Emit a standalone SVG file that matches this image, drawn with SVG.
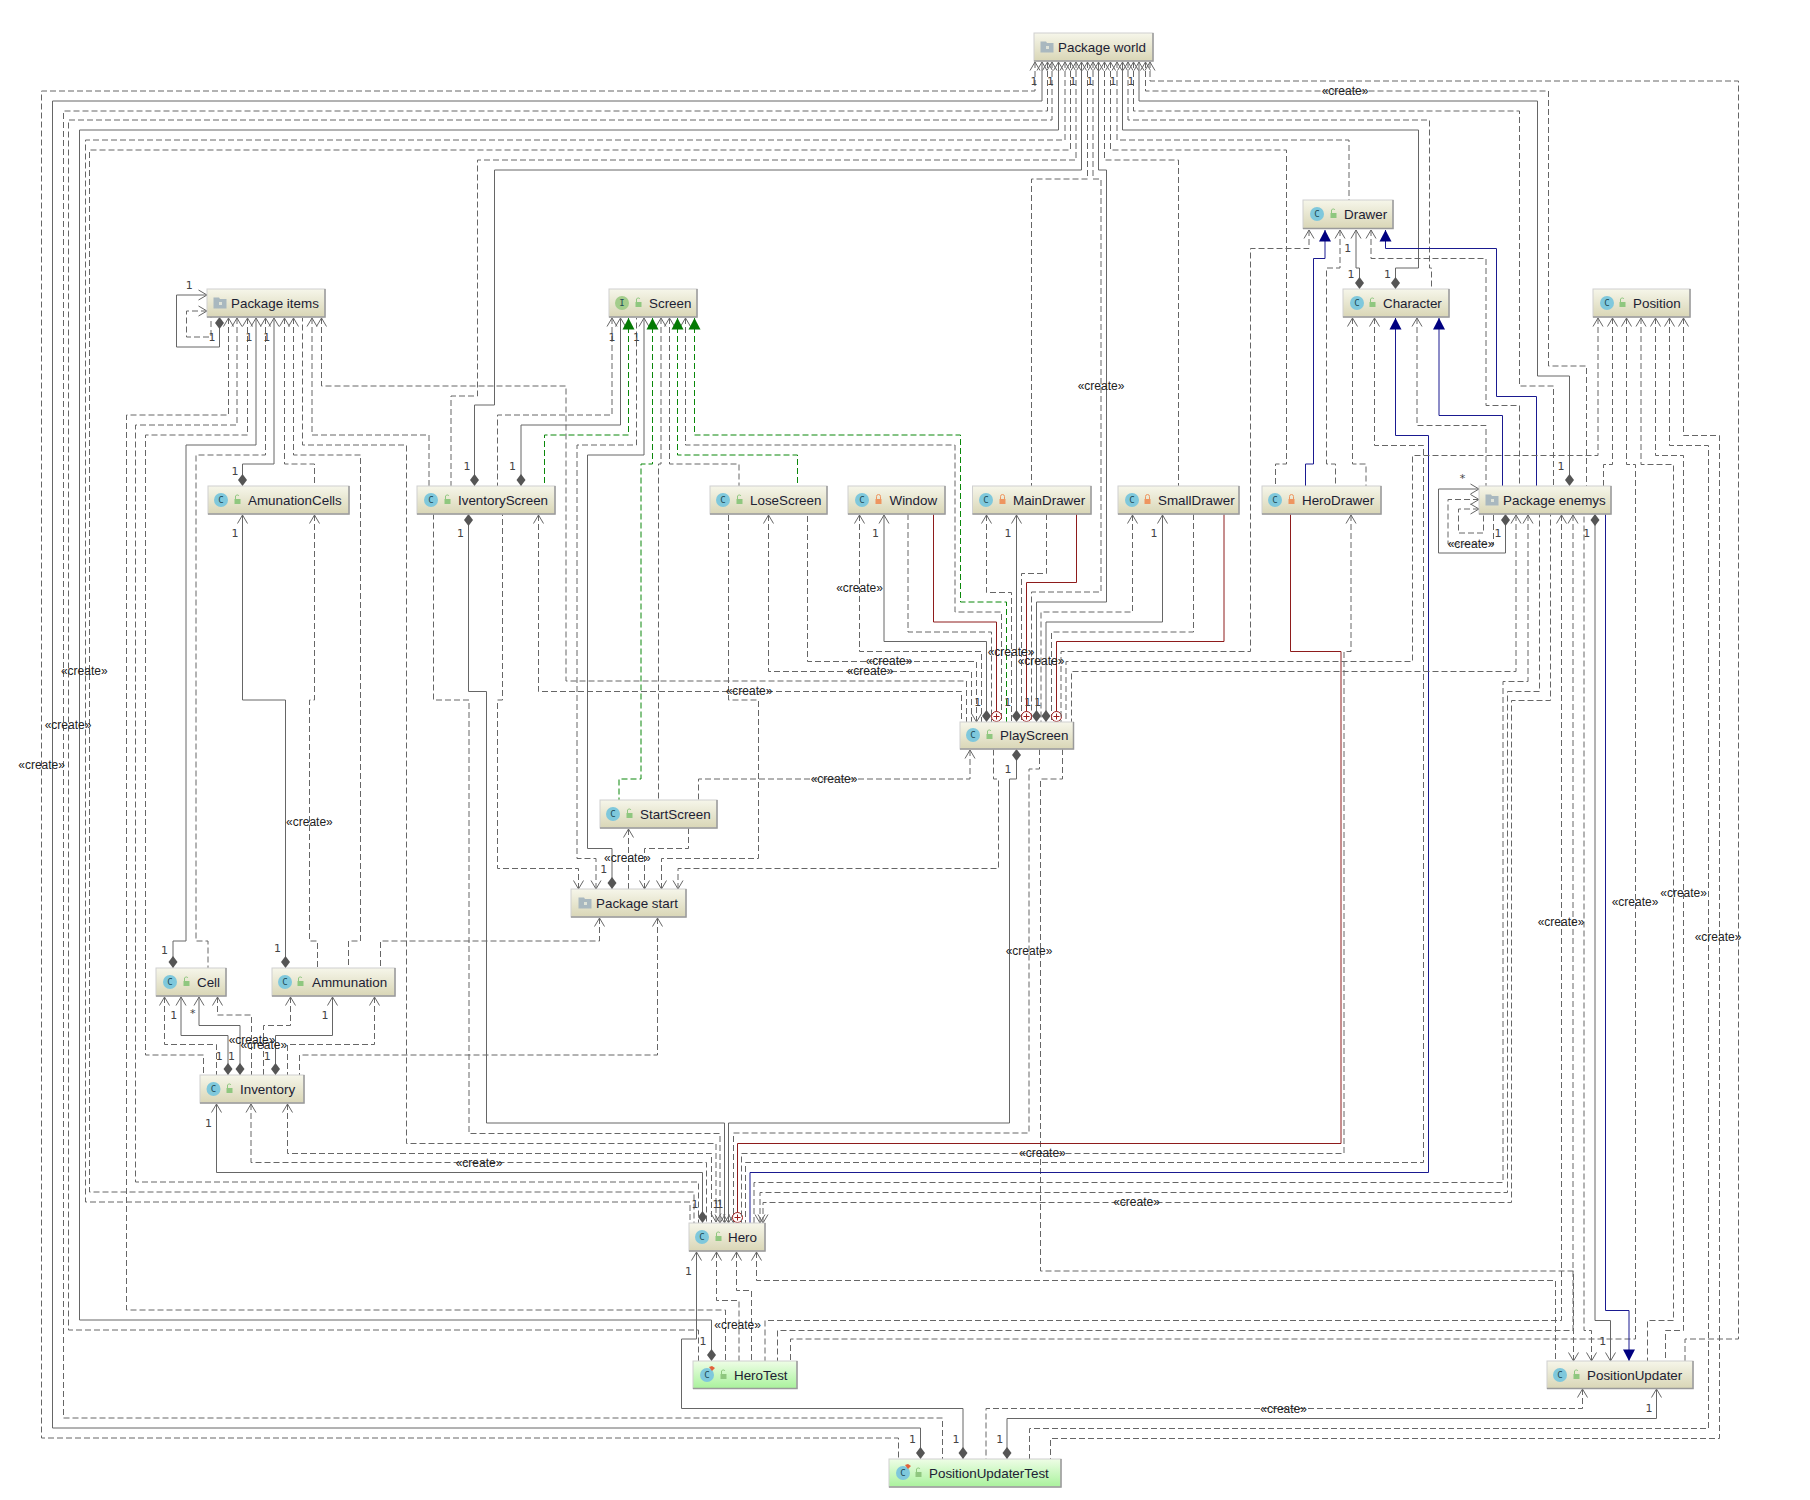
<svg xmlns="http://www.w3.org/2000/svg" width="1810" height="1500" viewBox="0 0 1810 1500">
<style>
text{font-family:"Liberation Sans",Arial,sans-serif}
.t{font-size:13.4px;fill:#1c2133}
.l{font-size:12px;fill:#222;text-anchor:middle}
.o{font-family:"DejaVu Sans",sans-serif;font-size:11px;fill:#444;text-anchor:middle}
.i{font-family:"DejaVu Sans Mono",monospace;font-size:9px;fill:#1d4a55;text-anchor:middle}
.n{fill:url(#nf);stroke:#d0d0d0;stroke-width:1}
.nt{fill:url(#tf);stroke:#d0d0d0;stroke-width:1}
.sh{fill:none;stroke:#9a9a9a;stroke-width:1.5}
.cc{fill:#7fc8dc}
.ci{fill:#a3cd8b}
#connectors path{fill:none;stroke-width:1}
.d{stroke:#666;stroke-dasharray:6 3}
.s{stroke:#666}
.g{stroke:#0a870a;stroke-dasharray:6 3}
.b{stroke:#1a1a90}
.r{stroke:#8e1c1c}
.a{marker-start:url(#oa)}
.k{marker-end:url(#dia)}
.c{marker-end:url(#plus)}
.fg{marker-start:url(#ga)}
.fb{marker-start:url(#ba)}
</style>
<defs>
<linearGradient id="nf" x1="0" y1="0" x2="0" y2="1"><stop offset="0" stop-color="#f6f6ea"/><stop offset="1" stop-color="#d9d6b6"/></linearGradient>
<linearGradient id="tf" x1="0" y1="0" x2="0" y2="1"><stop offset="0" stop-color="#eefde6"/><stop offset="1" stop-color="#a9f29c"/></linearGradient>
<marker id="oa" markerUnits="userSpaceOnUse" markerWidth="12" markerHeight="12" refX="10" refY="6" orient="auto-start-reverse"><path d="M1.500 1 L10 6 L1.500 11" fill="none" stroke="#666" stroke-width="1"/></marker>
<marker id="ga" markerUnits="userSpaceOnUse" markerWidth="13" markerHeight="13" refX="12" refY="6.5" orient="auto-start-reverse"><path d="M0.500 0.500 L12 6.500 L0.500 12.500Z" fill="#047a04"/></marker>
<marker id="ba" markerUnits="userSpaceOnUse" markerWidth="13" markerHeight="13" refX="12" refY="6.5" orient="auto-start-reverse"><path d="M0.500 0.500 L12 6.500 L0.500 12.500Z" fill="#000080"/></marker>
<marker id="dia" markerUnits="userSpaceOnUse" markerWidth="14" markerHeight="11" refX="13" refY="5.5" orient="auto"><path d="M1 5.500 L7 1 L13 5.500 L7 10Z" fill="#555"/></marker>
<marker id="plus" markerUnits="userSpaceOnUse" markerWidth="13" markerHeight="13" refX="12" refY="6.5" orient="auto"><circle cx="6.500" cy="6.500" r="5" fill="#fff" stroke="#9c1c1c" stroke-width="1"/><path d="M3.500 6.500 H9.500 M6.500 3.500 V9.500" stroke="#9c1c1c" stroke-width="1"/></marker>
<g id="lk"><path d="M-1.500 -1 V-4 A2 2 0 0 1 2 -4" fill="none" stroke="#8fc77f" stroke-width="1"/><rect x="-2.500" y="-1" width="6" height="5" fill="#8fc77f"/></g>
<g id="lp"><path d="M-1.500 -1 V-3.500 A2 2 0 0 1 2.500 -3.500 V-1" fill="none" stroke="#ee9560" stroke-width="1"/><rect x="-2.500" y="-1" width="6" height="5" fill="#ee9560"/></g>
<g id="fd"><path d="M-6.500 -5.500 H-1 L0 -4 H6.500 V5.500 H-6.500Z" fill="#a9b8bf"/><rect x="-1" y="-1" width="3" height="3" fill="#dfe3d8"/></g>
</defs>
<g id="connectors">
<path class="d a" d="M1035 62V91H41.500V1438H898.500V1459"/>
<path class="s a k" d="M1042 62V101H52.500V1428H920.500V1459"/>
<path class="d a" d="M1047.500 62V111H63.500V1418H942.500V1459"/>
<path class="d a" d="M1052 62V120H68.500V1330H698.500V1361"/>
<path class="s a k" d="M1058.500 62V130H79.500V1320H711.500V1361"/>
<path class="d a" d="M1065 62V140H85.500V1202H690V1223"/>
<path class="d a" d="M1070.500 62V150H89.500V1192H694V1223"/>
<path class="d a" d="M1076 62V160H477.500V396H451V486"/>
<path class="s a k" d="M1081.500 62V170H494.500V405H474.500V486"/>
<path class="d a" d="M1087.500 62V179H1031.500V486"/>
<path class="d a" d="M1093 62V179H1101V592H1031.500V722"/>
<path class="s a k" d="M1098.500 62V170H1106.500V602H1036.500V722"/>
<path class="d a" d="M1104.500 62V160H1178.500V486"/>
<path class="d a" d="M1110.500 62V150H1286.500V464H1275.500V486"/>
<path class="d a" d="M1117 62V140H1349V200"/>
<path class="s a k" d="M1122.500 62V130H1418.500V268H1395.500V289"/>
<path class="d a" d="M1128 62V120H1429.500V268H1431.500V289"/>
<path class="d a" d="M1133.500 62V111H1519.500V386H1553.500V486"/>
<path class="s a k" d="M1139 62V101H1537.500V376H1569.500V486"/>
<path class="d a" d="M1145.500 62V91H1548.500V366H1586.500V486"/>
<path class="d a" d="M1150 62V81H1738.500V1339H1685V1361"/>
<path class="d a" d="M207 311H186.500V337H211V317"/>
<path class="s a k" d="M207 295H176.500V347H219.500V317"/>
<path class="d a" d="M228.500 318V415H126.500V1310H725.500V1361"/>
<path class="d a" d="M237 318V425H135.500V1182H698.500V1223"/>
<path class="d a" d="M247.500 318V435H145.500V1055H203.500V1075"/>
<path class="s a k" d="M256 318V445H186V941H173V968"/>
<path class="d a" d="M265.500 318V455H196V941H208V968"/>
<path class="s a k" d="M274 318V464H242.500V486"/>
<path class="d a" d="M284.500 318V464H314.500V486"/>
<path class="d a" d="M293.500 318V455H360.500V941H348.500V968"/>
<path class="d a" d="M716 1222V1143.500H406.500V445H302.500V318"/>
<path class="d a" d="M312 318V435H429V486"/>
<path class="d a" d="M321.500 318V386H566V681H966.500V722"/>
<path class="d a" d="M612 318V415H497.500V486"/>
<path class="s a k" d="M620.500 318V425H521V486"/>
<path class="d a" d="M596 889V858.500H577V445H636.500V318"/>
<path class="s a k" d="M644 318V455H587.500V848.500H612V889"/>
<path class="d a" d="M661 318V464H658.500V800"/>
<path class="d a" d="M669.500 318V464H739V486"/>
<path class="d a" d="M685.500 318V445H955V612H1001.500V722"/>
<path class="g fg" d="M628.500 318V435H544.500V486"/>
<path class="g fg" d="M652.500 318V464H641V779H619V800"/>
<path class="g fg" d="M677.500 318V455H797.500V486"/>
<path class="g fg" d="M694.500 318V435H960.500V602H1006.500V722"/>
<path class="d a" d="M859.500 515V651.500H981.500V722"/>
<path class="s a k" d="M884 515V641.500H986.500V722"/>
<path class="d" d="M908 514V632H991.500V722"/>
<path class="r c" d="M933.500 514V622H996.500V722"/>
<path class="d a" d="M976.500 722V661.500H807.500V514"/>
<path class="d a" d="M768.500 515V671.500H971.500V722"/>
<path class="d a" d="M661.500 889V858.500H758.500V700H728.500V514"/>
<path class="d a" d="M538.500 515V691.500H961.500V722"/>
<path class="d a" d="M720 1223V1133.500H469V700H433.500V514"/>
<path class="s a k" d="M724.500 1223V1123H486.500V691.500H468.500V514"/>
<path class="d a" d="M578.500 889V868.500H497.500V700H502.500V514"/>
<path class="s a k" d="M242.500 515V700H285.500V968"/>
<path class="d a" d="M314.500 515V700H309.500V941H317.500V968"/>
<path class="d a" d="M599.500 918V941H380.500V968"/>
<path class="d a" d="M657.500 918V1055H299.500V1075"/>
<path class="d a" d="M628.500 829V889"/>
<path class="d a" d="M644.500 889V848.500H688.500V828"/>
<path class="d a" d="M970 750V779H698.500V800"/>
<path class="d a" d="M678 889V868.500H998.500V779H993.500V749"/>
<path class="s a k" d="M728.500 1223V1123H1009.500V779H1016.500V749"/>
<path class="d a" d="M733.500 1223V1133H1029V769H1039.500V749"/>
<path class="d a" d="M1573.500 1361V1271H1040.500V779H1062.500V749"/>
<path class="d a" d="M986.500 515V592.500H1011.500V722"/>
<path class="s a k" d="M1016.500 515V722"/>
<path class="d" d="M1046.500 514V573.500H1021.500V722"/>
<path class="r c" d="M1076.500 514V582.500H1026.500V722"/>
<path class="d a" d="M1132.500 515V612H1041V722"/>
<path class="s a k" d="M1162.500 515V622H1046V722"/>
<path class="d" d="M1193.500 514V632H1051.500V722"/>
<path class="r c" d="M1224 514V641.500H1056.500V722"/>
<path class="r c" d="M1290.500 514V651.500H1341V1143.500H737.500V1223"/>
<path class="d a" d="M1351 515V651.500H1344V1153.500H741.500V1223"/>
<path class="d a" d="M1340 230V268H1326.500V464H1335.500V486"/>
<path class="d a" d="M1352.500 318V464H1366V486"/>
<path class="d a" d="M1309 230V248.500H1250.500V651.500H1061V722"/>
<path class="s a k" d="M1356 230V268H1359.500V289"/>
<path class="d a" d="M1371 230V258.500H1486V405.500H1519.500V486"/>
<path class="d a" d="M1374.500 318V445.500H1423.500V1162.500H745.500V1223"/>
<path class="d a" d="M1417 318V425.500H1486V486"/>
<path class="b fb" d="M1325 230V258.500H1313.500V464H1305.500V486"/>
<path class="b fb" d="M1385.500 230V248.500H1496.500V396.500H1536.500V486"/>
<path class="b fb" d="M1395.500 318V435.500H1428.500V1172.500H750V1223"/>
<path class="b fb" d="M1439 318V415.500H1502.500V486"/>
<path class="d a" d="M1598 318V455.500H1412.500V661.500H1066V722"/>
<path class="d a" d="M1612.500 318V464.500H1603.500V486"/>
<path class="d a" d="M1626.500 318V464.500H1635.500V1339H790.500V1361"/>
<path class="d a" d="M1641 318V464.500H1673.500V1320.500H1647.500V1361"/>
<path class="d a" d="M1655.500 318V455.500H1683.500V1330.500H1665.500V1361"/>
<path class="d a" d="M1669.500 318V445.500H1708.500V1428.500H1029.500V1459"/>
<path class="d a" d="M1683.500 318V435.500H1719.500V1438.500H1050.500V1459"/>
<path class="s a k" d="M1479 489H1438.500V553H1505.500V514"/>
<path class="d a" d="M1479 499.500H1448V544H1493.500V514"/>
<path class="d a" d="M1479 509H1458.500V533H1483.500V514"/>
<path class="d a" d="M1516 515V671.500H1071.500V722"/>
<path class="d a" d="M1528 515V681.500H1503V1182.500H754V1223"/>
<path class="d a" d="M760 1223V1192.500H1507.500V691.500H1539.500V514"/>
<path class="d a" d="M763 1223V1202.500H1511.500V700.500H1550.500V514"/>
<path class="d a" d="M1561.500 515V1320.500H765V1361"/>
<path class="d a" d="M1573 515V1330.500H777.500V1361"/>
<path class="d a" d="M1591.500 1361V1330.500H1584V514"/>
<path class="s a k" d="M1610.500 1361V1320.500H1595V514"/>
<path class="b fb" d="M1629 1361V1310.500H1605.500V514"/>
<path class="d a" d="M756.500 1252V1280.500H1555.500V1361"/>
<path class="s a k" d="M696.500 1252V1339H681.500V1408.500H963V1459"/>
<path class="d a" d="M716.500 1252V1300.500H739V1361"/>
<path class="d a" d="M736.500 1252V1290.500H751.500V1361"/>
<path class="d a" d="M1582.500 1389V1408.500H986V1459"/>
<path class="s a k" d="M1656.500 1389V1418.500H1007V1459"/>
<path class="s a k" d="M216.500 1104V1172.500H702.500V1223"/>
<path class="d a" d="M251 1104V1162.500H706.500V1223"/>
<path class="d a" d="M287.500 1104V1153.500H711.500V1223"/>
<path class="d a" d="M164.500 997V1044.500H216.500V1075"/>
<path class="s a k" d="M181 997V1035.500H228V1075"/>
<path class="s a k" d="M199 997V1025.500H240V1075"/>
<path class="d a" d="M217.500 997V1015H251.500V1075"/>
<path class="d a" d="M290.500 997V1025.500H263.500V1075"/>
<path class="s a k" d="M332.500 997V1035.500H275.500V1075"/>
<path class="d a" d="M374.500 997V1044.500H287.500V1075"/>
</g>
<g id="labels">
<text class="l" x="1345" y="95">«create»</text>
<text class="l" x="1101" y="390">«create»</text>
<text class="l" x="84.300" y="675">«create»</text>
<text class="l" x="68" y="729">«create»</text>
<text class="l" x="41.600" y="769">«create»</text>
<text class="l" x="859.500" y="592">«create»</text>
<text class="l" x="1011" y="656">«create»</text>
<text class="l" x="1041" y="665">«create»</text>
<text class="l" x="889" y="665">«create»</text>
<text class="l" x="870" y="675">«create»</text>
<text class="l" x="749" y="695">«create»</text>
<text class="l" x="1471" y="548">«create»</text>
<text class="l" x="834" y="783">«create»</text>
<text class="l" x="309.400" y="826">«create»</text>
<text class="l" x="627.400" y="862">«create»</text>
<text class="l" x="1029" y="955">«create»</text>
<text class="l" x="1683.600" y="897">«create»</text>
<text class="l" x="1635" y="906">«create»</text>
<text class="l" x="1561" y="926">«create»</text>
<text class="l" x="1718" y="941">«create»</text>
<text class="l" x="252" y="1044">«create»</text>
<text class="l" x="263.800" y="1049">«create»</text>
<text class="l" x="479" y="1167">«create»</text>
<text class="l" x="1042.400" y="1157">«create»</text>
<text class="l" x="1136.500" y="1206">«create»</text>
<text class="l" x="737.600" y="1329">«create»</text>
<text class="l" x="1283.600" y="1413">«create»</text>
<text class="o" x="1034" y="85">1</text><text class="o" x="1050.500" y="85">1</text><text class="o" x="1073" y="85">1</text><text class="o" x="1090" y="85">1</text><text class="o" x="1113" y="85">1</text><text class="o" x="1131" y="85">1</text>
<text class="o" x="189.300" y="289">1</text><text class="o" x="212" y="341">1</text><text class="o" x="249" y="341">1</text><text class="o" x="266.700" y="341">1</text><text class="o" x="235" y="475">1</text>
<text class="o" x="612" y="341">1</text><text class="o" x="636.600" y="341">1</text><text class="o" x="467" y="470">1</text><text class="o" x="512.500" y="470">1</text>
<text class="o" x="1351" y="278">1</text><text class="o" x="1387.500" y="278">1</text><text class="o" x="1347.700" y="252">1</text><text class="o" x="1561" y="470">1</text>
<text class="o" x="235" y="537">1</text><text class="o" x="460.600" y="537">1</text><text class="o" x="875.600" y="537">1</text><text class="o" x="1008" y="537">1</text><text class="o" x="1154" y="537">1</text><text class="o" x="1498" y="537">1</text><text class="o" x="1586.700" y="537">1</text>
<text class="o" x="603.800" y="873">1</text><text class="o" x="164.500" y="954">1</text><text class="o" x="277.600" y="952">1</text>
<text class="o" x="977.700" y="706">1</text><text class="o" x="1007.700" y="706">1</text><text class="o" x="1027.700" y="706">1</text><text class="o" x="1037.700" y="706">1</text><text class="o" x="1008" y="773">1</text>
<text class="o" x="173.700" y="1019">1</text><text class="o" x="192.800" y="1017">*</text><text class="o" x="325" y="1019">1</text><text class="o" x="219.300" y="1060">1</text><text class="o" x="231.500" y="1060">1</text><text class="o" x="267.200" y="1060">1</text><text class="o" x="208.400" y="1127">1</text>
<text class="o" x="695" y="1208">1</text><text class="o" x="716" y="1208">1</text><text class="o" x="720" y="1208">1</text><text class="o" x="688.600" y="1275">1</text>
<text class="o" x="703" y="1345">1</text><text class="o" x="1602.800" y="1345">1</text><text class="o" x="912.500" y="1443">1</text><text class="o" x="956" y="1443">1</text><text class="o" x="999.700" y="1443">1</text><text class="o" x="1649" y="1412">1</text>
<text class="o" x="1462.600" y="482">*</text>
</g>
<g id="node-world"><rect class="n" x="1034" y="33" width="119" height="28"/><path class="sh" d="M1034 61H1153V33"/><use href="#fd" x="1047" y="47"/><text class="t" x="1058" y="52">Package world</text></g>
<g id="node-drawer"><rect class="n" x="1303" y="200" width="90" height="28.500"/><path class="sh" d="M1303 228.500H1393V200"/><circle class="cc" cx="1317" cy="214" r="7"/><text class="i" x="1317" y="217">C</text><use href="#lk" x="1333" y="214"/><text class="t" x="1344" y="219">Drawer</text></g>
<g id="node-character"><rect class="n" x="1343" y="289" width="106" height="28"/><path class="sh" d="M1343 317H1449V289"/><circle class="cc" cx="1357" cy="303" r="7"/><text class="i" x="1357" y="306">C</text><use href="#lk" x="1372" y="303"/><text class="t" x="1383" y="308">Character</text></g>
<g id="node-position"><rect class="n" x="1593" y="289" width="97" height="28"/><path class="sh" d="M1593 317H1690V289"/><circle class="cc" cx="1607" cy="303" r="7"/><text class="i" x="1607" y="306">C</text><use href="#lk" x="1622" y="303"/><text class="t" x="1633" y="308">Position</text></g>
<g id="node-items"><rect class="n" x="207" y="289" width="118" height="28"/><path class="sh" d="M207 317H325V289"/><use href="#fd" x="220" y="303"/><text class="t" x="231" y="308">Package items</text></g>
<g id="node-screen"><rect class="n" x="609" y="289" width="88" height="28"/><path class="sh" d="M609 317H697V289"/><circle class="ci" cx="622" cy="303" r="7"/><text class="i" x="622" y="306">I</text><use href="#lk" x="638" y="303"/><text class="t" x="649" y="308">Screen</text></g>
<g id="node-amunationcells"><rect class="n" x="208" y="486" width="141" height="28"/><path class="sh" d="M208 514H349V486"/><circle class="cc" cx="221" cy="500" r="7"/><text class="i" x="221" y="503">C</text><use href="#lk" x="237" y="500"/><text class="t" x="248" y="505">AmunationCells</text></g>
<g id="node-iventoryscreen"><rect class="n" x="417" y="486" width="138" height="28"/><path class="sh" d="M417 514H555V486"/><circle class="cc" cx="431" cy="500" r="7"/><text class="i" x="431" y="503">C</text><use href="#lk" x="447" y="500"/><text class="t" x="458" y="505">IventoryScreen</text></g>
<g id="node-losescreen"><rect class="n" x="710" y="486" width="117" height="28"/><path class="sh" d="M710 514H827V486"/><circle class="cc" cx="723" cy="500" r="7"/><text class="i" x="723" y="503">C</text><use href="#lk" x="739" y="500"/><text class="t" x="750" y="505">LoseScreen</text></g>
<g id="node-window"><rect class="n" x="848" y="486" width="97" height="28"/><path class="sh" d="M848 514H945V486"/><circle class="cc" cx="862" cy="500" r="7"/><text class="i" x="862" y="503">C</text><use href="#lp" x="878" y="500"/><text class="t" x="889.500" y="505">Window</text></g>
<g id="node-maindrawer"><rect class="n" x="972.500" y="486" width="118.500" height="28"/><path class="sh" d="M972.500 514H1091V486"/><circle class="cc" cx="986" cy="500" r="7"/><text class="i" x="986" y="503">C</text><use href="#lp" x="1002" y="500"/><text class="t" x="1013" y="505">MainDrawer</text></g>
<g id="node-smalldrawer"><rect class="n" x="1118" y="486" width="121" height="28"/><path class="sh" d="M1118 514H1239V486"/><circle class="cc" cx="1132" cy="500" r="7"/><text class="i" x="1132" y="503">C</text><use href="#lp" x="1147" y="500"/><text class="t" x="1158" y="505">SmallDrawer</text></g>
<g id="node-herodrawer"><rect class="n" x="1262" y="486" width="119" height="28"/><path class="sh" d="M1262 514H1381V486"/><circle class="cc" cx="1275" cy="500" r="7"/><text class="i" x="1275" y="503">C</text><use href="#lp" x="1291" y="500"/><text class="t" x="1302" y="505">HeroDrawer</text></g>
<g id="node-enemys"><rect class="n" x="1479" y="486" width="132" height="28"/><path class="sh" d="M1479 514H1611V486"/><use href="#fd" x="1492" y="500"/><text class="t" x="1503" y="505">Package enemys</text></g>
<g id="node-playscreen"><rect class="n" x="960" y="722" width="113.500" height="27"/><path class="sh" d="M960 749H1073.500V722"/><circle class="cc" cx="973" cy="735" r="7"/><text class="i" x="973" y="738">C</text><use href="#lk" x="989" y="735"/><text class="t" x="1000" y="740">PlayScreen</text></g>
<g id="node-startscreen"><rect class="n" x="600" y="800" width="117" height="28"/><path class="sh" d="M600 828H717V800"/><circle class="cc" cx="613" cy="814" r="7"/><text class="i" x="613" y="817">C</text><use href="#lk" x="629" y="814"/><text class="t" x="640" y="819">StartScreen</text></g>
<g id="node-start"><rect class="n" x="571" y="889" width="115" height="28"/><path class="sh" d="M571 917H686V889"/><use href="#fd" x="585" y="903"/><text class="t" x="596" y="908">Package start</text></g>
<g id="node-cell"><rect class="n" x="156" y="968" width="70" height="28"/><path class="sh" d="M156 996H226V968"/><circle class="cc" cx="170" cy="982" r="7"/><text class="i" x="170" y="985">C</text><use href="#lk" x="186" y="982"/><text class="t" x="197" y="987">Cell</text></g>
<g id="node-ammunation"><rect class="n" x="272" y="968" width="123" height="28"/><path class="sh" d="M272 996H395V968"/><circle class="cc" cx="285" cy="982" r="7"/><text class="i" x="285" y="985">C</text><use href="#lk" x="300" y="982"/><text class="t" x="312" y="987">Ammunation</text></g>
<g id="node-inventory"><rect class="n" x="200" y="1075" width="104" height="28"/><path class="sh" d="M200 1103H304V1075"/><circle class="cc" cx="213.500" cy="1089" r="7"/><text class="i" x="213.500" y="1092">C</text><use href="#lk" x="229" y="1089"/><text class="t" x="240" y="1094">Inventory</text></g>
<g id="node-hero"><rect class="n" x="689" y="1223" width="76" height="28"/><path class="sh" d="M689 1251H765V1223"/><circle class="cc" cx="702" cy="1237" r="7"/><text class="i" x="702" y="1240">C</text><use href="#lk" x="718" y="1237"/><text class="t" x="728" y="1242">Hero</text></g>
<g id="node-herotest"><rect class="nt" x="693" y="1361" width="104" height="27.500"/><path class="sh" d="M693 1388.500H797V1361"/><circle class="cc" cx="707" cy="1375" r="7"/><text class="i" x="707" y="1378">C</text><path d="M709 1367l3 4 3-3-3-2z" fill="#e2623b"/><use href="#lk" x="723" y="1375"/><text class="t" x="734" y="1380">HeroTest</text></g>
<g id="node-positionupdater"><rect class="n" x="1547" y="1361" width="146" height="27.500"/><path class="sh" d="M1547 1388.500H1693V1361"/><circle class="cc" cx="1560" cy="1375" r="7"/><text class="i" x="1560" y="1378">C</text><use href="#lk" x="1576" y="1375"/><text class="t" x="1587" y="1380">PositionUpdater</text></g>
<g id="node-positionupdatertest"><rect class="nt" x="889" y="1459" width="172" height="28"/><path class="sh" d="M889 1487H1061V1459"/><circle class="cc" cx="903" cy="1473" r="7"/><text class="i" x="903" y="1476">C</text><path d="M905 1465l3 4 3-3-3-2z" fill="#e2623b"/><use href="#lk" x="918" y="1473"/><text class="t" x="929" y="1478">PositionUpdaterTest</text></g>
</svg>
